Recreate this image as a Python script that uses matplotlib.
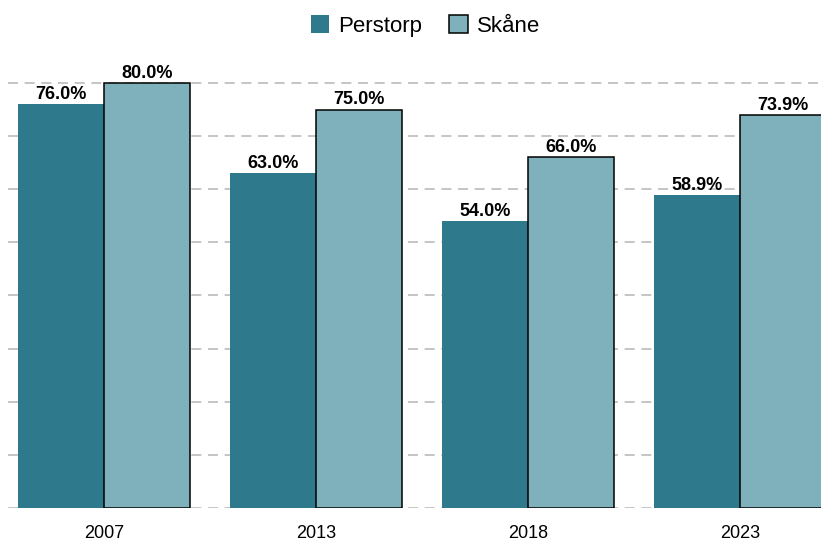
import matplotlib
matplotlib.use("Agg")
import matplotlib.pyplot as plt
import numpy as np
from matplotlib.patches import Patch

years = ["2007", "2013", "2018", "2023"]
perstorp = [76.0, 63.0, 54.0, 58.9]
skane = [80.0, 75.0, 66.0, 73.9]
series_names = ["Perstorp", "Skåne"]
grid_values = [0, 10, 20, 30, 40, 50, 60, 70, 80]

c_p = "#2E7A8C"
c_s = "#7EB1BB"

plt.rcParams['font.family'] = ['Liberation Sans', 'DejaVu Sans']

fig = plt.figure(figsize=(8.21, 5.44), dpi=100)
ax = fig.add_axes([0.0097, 0.0662, 0.9903, 0.82])

x = np.arange(len(years))
w = 0.405
ax_h_px = 0.82 * 544
per_px = 80 / (508 - 83)
ax.set_ylim(0, ax_h_px * per_px)
ax.set_xlim(-0.453, 3.382)

for g in grid_values:
    ax.axhline(g, color="#BBBBBB", lw=1.2, ls=(0, (6, 4)), zorder=0)

b1 = ax.bar(x - w / 2, perstorp, w, color=c_p, edgecolor="none", zorder=2)
b2 = ax.bar(x + w / 2, skane, w, color=c_s, edgecolor="black", lw=1.1, zorder=2)

for bars, vals in ((b1, perstorp), (b2, skane)):
    for b, v in zip(bars, vals):
        ax.text(b.get_x() + b.get_width() / 2, v + 0.25, f"{v:.1f}%",
                ha="center", va="bottom", fontsize=13, fontweight="bold", zorder=3)

ax.set_xticks(x)
ax.set_xticklabels(years, fontsize=13)
ax.tick_params(axis="x", length=0, pad=12)
ax.set_yticks([])
for s in ax.spines.values():
    s.set_visible(False)

handles = [Patch(facecolor=c_p, edgecolor="none"),
           Patch(facecolor=c_s, edgecolor="black", lw=1.1)]
fig.legend(handles, series_names, loc="center", bbox_to_anchor=(0.518, 0.952),
           ncol=2, frameon=False, fontsize=16, handlelength=0.85, handleheight=0.85,
           handletextpad=0.4, columnspacing=1.2)

fig.savefig("out.png", dpi=100)
